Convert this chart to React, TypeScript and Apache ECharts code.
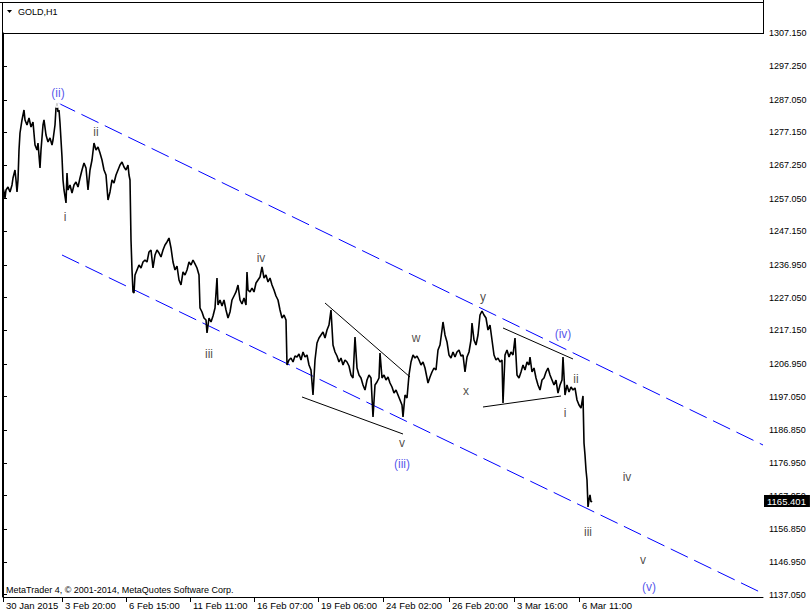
import React, { useEffect, useRef } from "react";
import * as echarts from "echarts";

const FONT = "'Liberation Sans', Arial, sans-serif";

// H1 bar index (0 = first visible bar) and close price
const bars = [
  0, 1, 2, 3, 5, 7, 9, 10, 12, 13, 14, 15, 16, 17, 19, 21, 22, 24, 26, 28, 30, 32, 34, 35, 37, 38, 40, 41, 43, 45,
  47, 49, 50, 52, 53, 54, 55, 56, 57, 58, 59, 60, 61, 63, 64, 65, 67, 69, 71, 73, 75, 77, 79, 81, 83, 85, 87, 89, 91, 93,
  95, 97, 99, 101, 103, 105, 107, 109, 111, 113, 115, 117, 119, 121, 123, 125, 126, 127, 128, 129, 130, 131, 132, 134, 136, 138, 140, 142, 144, 146,
  148, 150, 152, 154, 156, 158, 160, 162, 164, 166, 168, 170, 172, 174, 176, 178, 180, 182, 184, 186, 188, 190, 192, 194, 196, 197, 199, 201, 203, 204,
  206, 208, 210, 212, 214, 215, 217, 219, 221, 223, 225, 227, 229, 231, 233, 235, 237, 239, 241, 243, 244, 245, 247, 249, 251, 253, 255, 257, 259, 261,
  263, 265, 267, 269, 271, 273, 275, 277, 279, 281, 283, 284, 286, 288, 290, 292, 294, 296, 298, 300, 302, 304, 306, 308, 310, 312, 314, 316, 318, 320,
  322, 324, 326, 328, 330, 332, 334, 336, 338, 340, 342, 344, 346, 348, 350, 352, 354, 356, 358, 360, 362, 364, 366, 368, 370, 372, 374, 376, 377, 379,
  381, 383, 385, 387, 389, 391, 393, 395, 397, 399, 400, 402, 404, 406, 408, 410, 412, 414, 416, 418, 420, 422, 424, 425, 427, 429, 431, 433, 435, 437,
  439, 440, 442, 444, 446, 448, 450, 452, 454, 456, 458, 460, 462, 464, 466, 468, 469, 471, 473, 475, 477, 479, 481, 483, 485, 487, 489, 491, 493, 495,
  497, 499, 500, 502, 504, 506, 508, 510, 512, 514, 516, 518, 520, 522, 524, 526, 527, 529, 531, 533, 535, 537, 539, 541, 543, 545, 547, 549, 551, 553,
  555, 557, 559, 560, 562, 564, 566, 568, 570, 572, 574, 576, 578, 580, 581, 582, 583, 584, 585, 586, 587, 588, 589,
];
const closes = [
  1260.31, 1259.10, 1257.28, 1259.70, 1260.61, 1259.10, 1261.22, 1263.34, 1265.77, 1262.73, 1259.10, 1262.73, 1271.83, 1276.98, 1280.93, 1283.96, 1280.93, 1279.41, 1281.53, 1278.80, 1280.32, 1273.35, 1271.83, 1273.95, 1266.37, 1271.83, 1279.41, 1280.93, 1276.38, 1274.26,
  1275.47, 1273.35, 1274.86, 1279.41, 1284.56, 1286.08, 1283.35, 1283.96, 1280.02, 1274.86, 1269.71, 1262.73, 1259.70, 1255.76, 1264.86, 1259.70, 1261.22, 1258.79, 1261.22, 1262.13, 1260.61, 1263.34, 1265.77, 1267.89, 1266.37, 1259.70, 1265.77, 1268.80, 1273.95, 1271.83,
  1272.74, 1270.92, 1268.80, 1265.77, 1264.25, 1256.67, 1259.10, 1262.73, 1261.82, 1264.25, 1265.77, 1267.28, 1268.19, 1266.68, 1265.77, 1267.28, 1264.25, 1262.73, 1244.54, 1235.45, 1228.78, 1228.47, 1233.93, 1235.45, 1236.96, 1236.05, 1237.87, 1238.48, 1237.87, 1240.90,
  1241.51, 1236.05, 1239.99, 1241.51, 1240.60, 1239.39, 1241.51, 1243.03, 1243.94, 1245.15, 1242.12, 1237.87, 1235.45, 1236.66, 1232.41, 1230.90, 1234.84, 1233.93, 1235.45, 1237.87, 1236.96, 1238.48, 1237.27, 1236.05, 1233.93, 1223.92, 1222.71, 1220.89, 1220.29, 1216.34,
  1220.89, 1219.68, 1221.50, 1223.92, 1233.02, 1224.83, 1226.35, 1224.53, 1226.35, 1223.32, 1220.89, 1222.71, 1226.35, 1227.56, 1228.78, 1230.90, 1226.35, 1225.14, 1226.96, 1224.83, 1234.84, 1229.38, 1228.78, 1229.99, 1228.78, 1231.50, 1232.41, 1233.32, 1236.36, 1233.02,
  1233.93, 1231.81, 1233.02, 1230.90, 1229.38, 1227.56, 1226.35, 1223.32, 1220.89, 1221.80, 1220.29, 1206.64, 1208.16, 1208.76, 1207.55, 1209.37, 1209.07, 1209.98, 1208.16, 1210.58, 1209.07, 1209.67, 1206.64, 1205.13, 1197.55, 1208.16, 1213.31, 1214.83, 1215.74, 1216.65,
  1214.83, 1217.25, 1218.77, 1223.32, 1212.71, 1210.58, 1209.37, 1207.55, 1208.76, 1206.64, 1208.16, 1207.55, 1206.34, 1203.61, 1202.70, 1215.13, 1205.73, 1203.61, 1202.70, 1200.58, 1199.06, 1202.09, 1203.61, 1202.70, 1190.88, 1200.58, 1201.49, 1202.70, 1210.28, 1202.70,
  1203.61, 1202.09, 1203.00, 1201.18, 1199.97, 1198.15, 1199.06, 1197.55, 1196.03, 1194.51, 1190.88, 1197.55, 1196.64, 1203.61, 1207.55, 1209.67, 1208.76, 1209.37, 1208.16, 1206.64, 1207.55, 1205.73, 1202.70, 1201.18, 1203.00, 1204.52, 1205.73, 1205.13, 1211.19, 1212.71,
  1217.25, 1219.68, 1215.74, 1213.62, 1209.67, 1208.76, 1210.58, 1209.07, 1210.58, 1211.19, 1209.37, 1209.67, 1204.52, 1209.07, 1210.58, 1214.22, 1219.38, 1214.22, 1212.71, 1215.74, 1221.80, 1223.01, 1221.80, 1220.89, 1217.25, 1218.77, 1214.22, 1209.67, 1208.16, 1208.76,
  1207.55, 1208.16, 1195.12, 1209.67, 1211.19, 1209.07, 1210.58, 1209.67, 1214.83, 1203.61, 1202.70, 1204.52, 1206.64, 1205.13, 1207.55, 1206.64, 1209.07, 1204.52, 1205.73, 1202.70, 1200.58, 1199.06, 1202.09, 1202.70, 1204.52, 1205.73, 1203.61, 1202.09, 1200.58, 1202.09,
  1198.15, 1200.58, 1202.09, 1209.07, 1197.55, 1200.58, 1198.46, 1199.97, 1199.06, 1199.67, 1196.03, 1194.51, 1193.60, 1197.24, 1182.99, 1179.35, 1174.81, 1171.77, 1163.59, 1165.71, 1167.23, 1165.10, 1165.40,
];

const lastPrice = 1165.401;

const priceTicks = [
  1137.05, 1146.95, 1156.85, 1167.05, 1176.95, 1186.85, 1197.05, 1206.95, 1217.15,
  1227.05, 1236.95, 1247.15, 1257.05, 1267.25, 1277.15, 1287.05, 1297.25, 1307.15,
];
const timeTickBars = [0, 59, 123, 187, 251, 315, 380, 446, 511, 576];
const timeTickLabels = [
  "30 Jan 2015", "3 Feb 20:00", "6 Feb 15:00", "11 Feb 11:00", "16 Feb 07:00",
  "19 Feb 06:00", "24 Feb 02:00", "26 Feb 20:00", "3 Mar 16:00", "6 Mar 11:00",
];

// Elliott wave labels
const waveTexts = ["(ii)", "ii", "i", "iv", "iii", "w", "x", "y", "(iv)", "ii", "i", "v", "(iii)", "iii", "iv", "v", "(v)"];
const waveBars = [55, 93, 62, 258, 206, 413, 463, 480, 560, 573, 562, 399, 399, 585, 624, 640, 646];
const wavePrices = [1289.11, 1277.29, 1251.51, 1239.08, 1209.98, 1214.83, 1198.76, 1227.26, 1216.04, 1202.4, 1192.09, 1182.99, 1176.62, 1156.01, 1172.68, 1147.52, 1139.34];
const waveDegree = ["int", "min", "min", "min", "min", "min", "min", "min", "int", "min", "min", "min", "int", "min", "min", "min", "int"];

// channel lines
const channelUpperBars = [55, 760];
const channelUpperPrices = [1286.08, 1182.39];
const channelLowerBars = [59, 759];
const channelLowerPrices = [1239.99, 1137.51];

// triangle / wedge trend lines
const trendBars = [[322, 407], [299, 400], [500, 570], [480, 558]];
const trendPrices = [[1225.44, 1203.0], [1196.94, 1185.72], [1217.86, 1208.46], [1193.91, 1197.24]];

const markerBar = 54;
const markerPrice = 1285.6;

export default function App() {
  const ref = useRef<HTMLDivElement>(null);
  useEffect(() => {
    if (!ref.current) return;
    const chart = echarts.init(ref.current, undefined, { renderer: "svg" });

    const priceData = bars.map((b, i) => [b, closes[i]]);
    const waveData = waveTexts.map((t, i) => ({
      value: [waveBars[i], wavePrices[i]],
      name: t,
      label: { color: waveDegree[i] === "int" ? "#2a2ae6" : "#1e1a16" },
    }));

    const trendSeries = trendBars.map((bb, k) => ({
      type: "line",
      data: bb.map((b, j) => [b, trendPrices[k][j]]),
      showSymbol: false,
      lineStyle: { color: "#000", width: 1 },
      silent: true,
      z: 3,
    }));

    const channel = (bb: number[], pp: number[]) => ({
      type: "line",
      data: bb.map((b, j) => [b, pp[j]]),
      showSymbol: false,
      lineStyle: { color: "#0000ff", width: 1, type: [19, 7] },
      silent: true,
      z: 3,
    });

    chart.setOption({
      animation: false,
      backgroundColor: "#fff",
      grid: { left: 3, right: 47, top: 33, bottom: 19, containLabel: false },
      xAxis: {
        type: "value",
        min: 0,
        max: 760,
        axisLine: { show: true, lineStyle: { color: "#000", width: 1 } },
        axisTick: { show: true, length: 5, customValues: timeTickBars, lineStyle: { color: "#000" } },
        axisLabel: {
          customValues: timeTickBars,
          formatter: (v: number) => {
            const i = timeTickBars.indexOf(Math.round(v));
            return i >= 0 ? timeTickLabels[i] : "";
          },
          align: "left",
          margin: 3,
          padding: [0, 0, 0, 3],
          color: "#000",
          fontFamily: FONT,
          fontSize: 9.5,
        },
        splitLine: { show: false },
      },
      yAxis: {
        type: "value",
        position: "right",
        min: 1136.3,
        max: 1307.3,
        axisLine: { show: true, lineStyle: { color: "#000", width: 1 } },
        axisTick: { show: true, length: 4, customValues: priceTicks, lineStyle: { color: "#000" } },
        axisLabel: {
          customValues: priceTicks,
          formatter: (v: number) => v.toFixed(3),
          margin: 6,
          color: "#000",
          fontFamily: FONT,
          fontSize: 9,
        },
        splitLine: { show: false },
      },
      series: [
        {
          type: "line",
          data: priceData,
          showSymbol: false,
          lineStyle: { color: "#000", width: 1.6 },
          z: 4,
          markLine: {
            silent: true,
            symbol: "none",
            data: [{ yAxis: lastPrice }],
            lineStyle: { color: "rgba(0,0,0,0)", width: 0 },
            label: {
              show: true,
              position: "end",
              distance: 1,
              formatter: lastPrice.toFixed(3),
              backgroundColor: "#000",
              color: "#fff",
              opacity: 1,
              padding: [1, 4, 1, 3],
              fontFamily: FONT,
              fontSize: 9.5,
            },
          },
        },
        channel(channelUpperBars, channelUpperPrices),
        channel(channelLowerBars, channelLowerPrices),
        ...trendSeries,
        {
          type: "scatter",
          data: [[markerBar, markerPrice]],
          symbol: "emptyCircle",
          symbolSize: 5,
          itemStyle: { color: "#fff", borderColor: "#e8901a", borderWidth: 1.2 },
          z: 5,
          silent: true,
        },
        {
          type: "scatter",
          data: waveData,
          symbolSize: 0,
          silent: true,
          z: 6,
          label: {
            show: true,
            position: "inside",
            formatter: (p: any) => p.name,
            fontFamily: FONT,
            fontSize: 12,
          },
        },
      ],
      graphic: [
        { type: "line", shape: { x1: 0, y1: 2.5, x2: 763, y2: 2.5 }, style: { stroke: "#000", lineWidth: 1 } },
        { type: "line", shape: { x1: 2.5, y1: 2, x2: 2.5, y2: 597 }, style: { stroke: "#000", lineWidth: 1 } },
        { type: "line", shape: { x1: 2, y1: 33.5, x2: 763, y2: 33.5 }, style: { stroke: "#000", lineWidth: 1 } },
        { type: "line", shape: { x1: 763.5, y1: 0, x2: 763.5, y2: 34 }, style: { stroke: "#000", lineWidth: 1 } },
        { type: "polygon", shape: { points: [[7, 10], [12, 10], [9.5, 13]] }, style: { fill: "#000" } },
        {
          type: "text",
          x: 18,
          y: 11.5,
          style: { text: "GOLD,H1", fill: "#000", font: `9px ${FONT}`, textVerticalAlign: "middle" },
        },
        {
          type: "text",
          x: 6,
          y: 590,
          style: {
            text: "MetaTrader 4, © 2001-2014, MetaQuotes Software Corp.",
            fill: "#000",
            font: `9px ${FONT}`,
            textVerticalAlign: "middle",
          },
        },
      ],
    });
    return () => chart.dispose();
  }, []);
  return <div ref={ref} style={{ position: "absolute", left: 0, top: 0, width: 810, height: 616 }} />;
}
